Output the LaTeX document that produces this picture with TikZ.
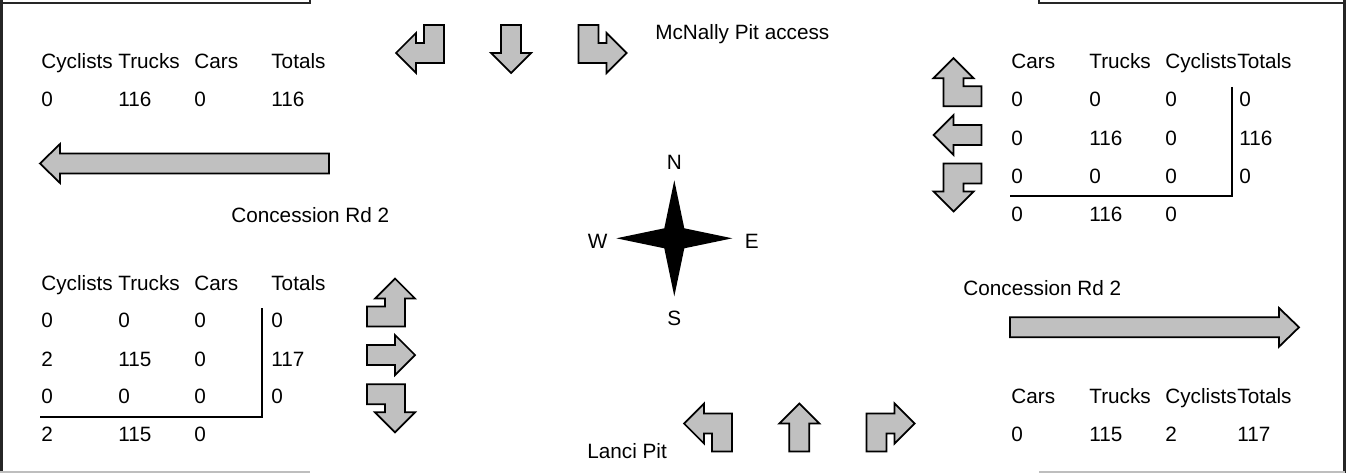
\documentclass[tikz,border=0pt]{standalone}
\usepackage{fontspec}
\setmainfont{Liberation Sans}
\usepackage{xcolor}
\usepackage{tikz}

\definecolor{arrowgrey}{RGB}{192,192,192}
\definecolor{edgegrey}{RGB}{190,190,190}

\tikzset{
  turnarrow/.pic={\draw[arrowshape] (-24,4) -- (-4,-16) -- (-4,-6) -- (4,-6) -- (4,-24)
    -- (24,-24) -- (24,14) -- (-4,14) -- (-4,24) -- cycle;},
  straightarrow/.pic={\draw[arrowshape] (-24,-10) -- (4,-10) -- (4,-20) -- (24,0)
    -- (4,20) -- (4,10) -- (-24,10) -- cycle;}
}

\begin{document}
\begin{tikzpicture}[x=0.02cm, y=-0.02cm,
  every node/.style={inner sep=0pt, anchor=base west, font=\fontsize{11.8}{14}\selectfont},
  frameline/.style={line width=1.2pt, draw=black!85},
  bottomline/.style={line width=0.8pt, draw=edgegrey},
  arrowshape/.style={draw, fill=arrowgrey, line width=1pt, line join=miter},
  tabrule/.style={line width=1pt}]
\useasboundingbox (0,0) rectangle (1351,473);

% page frame
\draw[frameline] (310,0) -- (310,3) -- (0,3);
\draw[frameline] (1.5,0) -- (1.5,473);
\draw[frameline] (1039,0) -- (1039,3) -- (1344.5,3);
\draw[frameline] (1344.5,0) -- (1344.5,473);
\draw[bottomline] (0,472) -- (310,472);
\draw[bottomline] (1039,472) -- (1344.5,472);

% McNally Pit access
\pic at (420,49) {turnarrow};
\pic[rotate=-90] at (511,49) {straightarrow};
\pic[xscale=-1] at (602.5,49) {turnarrow};
\node (mcnally) at (655,39.3) {McNally Pit access};

% Lanci Pit
\pic[yscale=-1] at (708,427.5) {turnarrow};
\pic[rotate=90] at (799.3,427.5) {straightarrow};
\pic[xscale=-1, yscale=-1] at (890.5,427.5) {turnarrow};
\node (lanci) at (587,458.3) {Lanci Pit};

% west approach
\pic[xscale=-1, rotate=-90] at (391,302.5) {turnarrow};
\pic at (391,355) {straightarrow};
\pic[yscale=-1, xscale=-1, rotate=-90] at (391,408.3) {turnarrow};

% east approach
\pic[rotate=-90] at (957.5,82.2) {turnarrow};
\pic[rotate=180] at (957.5,135) {straightarrow};
\pic[yscale=-1, rotate=-90] at (957.5,187.5) {turnarrow};

% Concession Rd 2
\draw[arrowshape] (329,153.5) -- (60,153.5) -- (60,144) -- (40,163.5) -- (60,183)
  -- (60,173.5) -- (329,173.5) -- cycle;
\draw[arrowshape] (1010,317.3) -- (1279,317.3) -- (1279,308) -- (1299,327.3)
  -- (1279,346.7) -- (1279,337.3) -- (1010,337.3) -- cycle;
\node (westrd) at (231,222.5) {Concession Rd 2};
\node (eastrd) at (963,295.7) {Concession Rd 2};

% compass
\coordinate (compass) at (674.3,238.3);
\fill[shift={(compass)}] (0,-58) -- (10,-10) -- (58,0) -- (10,10) -- (0,58)
  -- (-10,10) -- (-58,0) -- (-10,-10) -- cycle;
\node[anchor=base] (north) at (674.3,169.3) {N};
\node[anchor=base] (south) at (674.3,325.7) {S};
\node[anchor=base] (westlbl) at (597.7,248.3) {W};
\node[anchor=base] (eastlbl) at (751.7,248.3) {E};

% westbound out (top left)
\foreach \x/\t [count=\i] in {41/Cyclists,118/Trucks,194/Cars,271/Totals}
  \node (nw0-\i) at (\x,68.5) {\t};
\foreach \x/\t [count=\i] in {41/0,118/116,194/0,271/116}
  \node (nw1-\i) at (\x,107) {\t};

% east approach counts (top right)
\foreach \x/\t [count=\i] in {1011/Cars,1089/Trucks,1165/Cyclists,1237/Totals}
  \node (ne0-\i) at (\x,68.5) {\t};
\foreach \x/\t [count=\i] in {1011/0,1089/0,1165/0,1239/0}
  \node (ne1-\i) at (\x,106.7) {\t};
\foreach \x/\t [count=\i] in {1011/0,1089/116,1165/0,1239/116}
  \node (ne2-\i) at (\x,145.7) {\t};
\foreach \x/\t [count=\i] in {1011/0,1089/0,1165/0,1239/0}
  \node (ne3-\i) at (\x,183.3) {\t};
\foreach \x/\t [count=\i] in {1011/0,1089/116,1165/0}
  \node (ne4-\i) at (\x,221.7) {\t};
\draw[tabrule] (1232,87) -- (1232,196) -- (1010,196);

% west approach counts (bottom left)
\foreach \x/\t [count=\i] in {41/Cyclists,118/Trucks,194/Cars,271/Totals}
  \node (sw0-\i) at (\x,290) {\t};
\foreach \x/\t [count=\i] in {41/0,118/0,194/0,271/0}
  \node (sw1-\i) at (\x,327.7) {\t};
\foreach \x/\t [count=\i] in {41/2,118/115,194/0,271/117}
  \node (sw2-\i) at (\x,366) {\t};
\foreach \x/\t [count=\i] in {41/0,118/0,194/0,271/0}
  \node (sw3-\i) at (\x,403.3) {\t};
\foreach \x/\t [count=\i] in {41/2,118/115,194/0}
  \node (sw4-\i) at (\x,441.7) {\t};
\draw[tabrule] (261.7,308.3) -- (261.7,416.7) -- (40,416.7);

% eastbound out (bottom right)
\foreach \x/\t [count=\i] in {1011/Cars,1089/Trucks,1165/Cyclists,1237/Totals}
  \node (se0-\i) at (\x,403.3) {\t};
\foreach \x/\t [count=\i] in {1011/0,1089/115,1165/2,1237/117}
  \node (se1-\i) at (\x,441.7) {\t};
\end{tikzpicture}
\end{document}
